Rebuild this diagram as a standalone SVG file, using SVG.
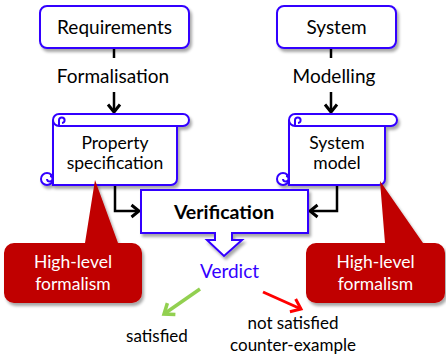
<svg xmlns="http://www.w3.org/2000/svg" width="446" height="355" viewBox="0 0 446 355">
<defs>
<style>
text{font-family:Lato,"Liberation Sans",sans-serif;text-anchor:middle}
.box{fill:#fff;stroke:#3300FF;stroke-width:2}
.t{font-size:19px;fill:#000}
.s{font-size:17.5px;fill:#000}
.c{font-size:17.5px;fill:#fff}
.o{font-size:17px;fill:#000}
.ln{fill:none;stroke:#000;stroke-width:2.5}
.red{fill:#C00000}
</style>
<filter id="sh" x="-10%" y="-10%" width="130%" height="140%">
<feGaussianBlur in="SourceAlpha" stdDeviation="1.5"/>
<feOffset dx="2" dy="2.5" result="b"/>
<feComponentTransfer><feFuncA type="linear" slope="0.35"/></feComponentTransfer>
<feMerge><feMergeNode/><feMergeNode in="SourceGraphic"/></feMerge>
</filter>
<marker id="ah" markerUnits="userSpaceOnUse" markerWidth="18" markerHeight="18" viewBox="-11 -9 13 18" refX="0" refY="0" orient="auto">
<path d="M-7.5,-6 L0,0 L-7.5,6" fill="none" stroke="#000" stroke-width="3"/>
</marker>
<marker id="ag" markerUnits="userSpaceOnUse" markerWidth="20" markerHeight="20" viewBox="-12 -10 14 20" refX="0" refY="0" orient="auto">
<path d="M-9,-7 L0,0 L-9,7" fill="none" stroke="#92D050" stroke-width="3.5"/>
</marker>
<marker id="ar" markerUnits="userSpaceOnUse" markerWidth="20" markerHeight="20" viewBox="-12 -10 14 20" refX="0" refY="0" orient="auto">
<path d="M-9,-7 L0,0 L-9,7" fill="none" stroke="#FF0000" stroke-width="3"/>
</marker>
</defs>

<g id="connectors">
<path class="ln" d="M114,48 V58"/>
<path class="ln" d="M114,92 V112" marker-end="url(#ah)"/>
<path class="ln" d="M331,48 V58"/>
<path class="ln" d="M331,92 V112" marker-end="url(#ah)"/>
<path class="ln" d="M115,185 V211 H139" marker-end="url(#ah)"/>
<path class="ln" d="M337,185 V211 H310" marker-end="url(#ah)"/>
<path d="M200,289 L164,314" fill="none" stroke="#92D050" stroke-width="3.5" marker-end="url(#ag)"/>
<path d="M263,292 L301,309" fill="none" stroke="#FF0000" stroke-width="3" marker-end="url(#ar)"/>
<text class="t" x="113" y="82.5">Formalisation</text>
<text class="t" x="334" y="82.5">Modelling</text>
</g>

<g id="requirements">
<rect class="box" x="40" y="6" width="149" height="42" rx="7" filter="url(#sh)"/>
<text class="t" x="114.5" y="34">Requirements</text>
</g>

<g id="system">
<rect class="box" x="277" y="6" width="119" height="42" rx="7" filter="url(#sh)"/>
<text class="t" x="336.5" y="34">System</text>
</g>

<g id="property-specification">
<g filter="url(#sh)">
<path class="box" d="M53,120 V185 H171 A6,6 0 0 0 177,179 V126"/>
<circle class="box" cx="47" cy="179" r="6"/>
<rect class="box" x="53" y="114" width="136" height="12" rx="6"/>
</g>
<path d="M59,126 V120 A2.8,2.8 0 1 1 62,123" fill="none" stroke="#3300FF" stroke-width="2"/>
<path d="M47,179 A2.8,2.8 0 1 0 50,176" fill="none" stroke="#3300FF" stroke-width="2"/>
<text class="s" x="115" y="149">Property</text>
<text class="s" x="115" y="169">specification</text>
</g>

<g id="system-model">
<g filter="url(#sh)">
<path class="box" d="M289,120 V185 H379 A6,6 0 0 0 385,179 V126"/>
<circle class="box" cx="283" cy="179" r="6"/>
<rect class="box" x="289" y="114" width="108" height="12" rx="6"/>
</g>
<path d="M295,126 V120 A2.8,2.8 0 1 1 298,123" fill="none" stroke="#3300FF" stroke-width="2"/>
<path d="M283,179 A2.8,2.8 0 1 0 286,176" fill="none" stroke="#3300FF" stroke-width="2"/>
<text class="s" x="337" y="149">System</text>
<text class="s" x="337" y="169">model</text>
</g>

<g id="verification">
<path class="box" d="M141,190 H308 V233 H232 V240 H242 L224,256 L207,240 H215 V233 H141 Z" filter="url(#sh)"/>
<text x="224" y="218.5" style="font-size:19.5px;font-weight:bold;fill:#000">Verification</text>
</g>

<g id="verdict">
<text x="229.5" y="278" style="font-size:19px;fill:#3300FF">Verdict</text>
</g>

<g id="callout-left">
<path class="red" filter="url(#sh)" d="M14,243 H85 L95,180 L118,243 H132 A10,10 0 0 1 142,253 V293 A10,10 0 0 1 132,303 H14 A10,10 0 0 1 4,293 V253 A10,10 0 0 1 14,243 Z"/>
<text class="c" x="73" y="268">High-level</text>
<text class="c" x="73" y="290">formalism</text>
</g>

<g id="callout-right">
<path class="red" filter="url(#sh)" d="M316,243 H385 L380,181 L423,243 H435 A10,10 0 0 1 445,253 V293 A10,10 0 0 1 435,303 H316 A10,10 0 0 1 306,293 V253 A10,10 0 0 1 316,243 Z"/>
<text class="c" x="375.5" y="268">High-level</text>
<text class="c" x="375.5" y="290">formalism</text>
</g>

<g id="satisfied">
<text class="o" x="157" y="341.5">satisfied</text>
</g>

<g id="not-satisfied">
<text class="o" x="293" y="329">not satisfied</text>
<text class="o" x="293" y="351">counter-example</text>
</g>
</svg>
